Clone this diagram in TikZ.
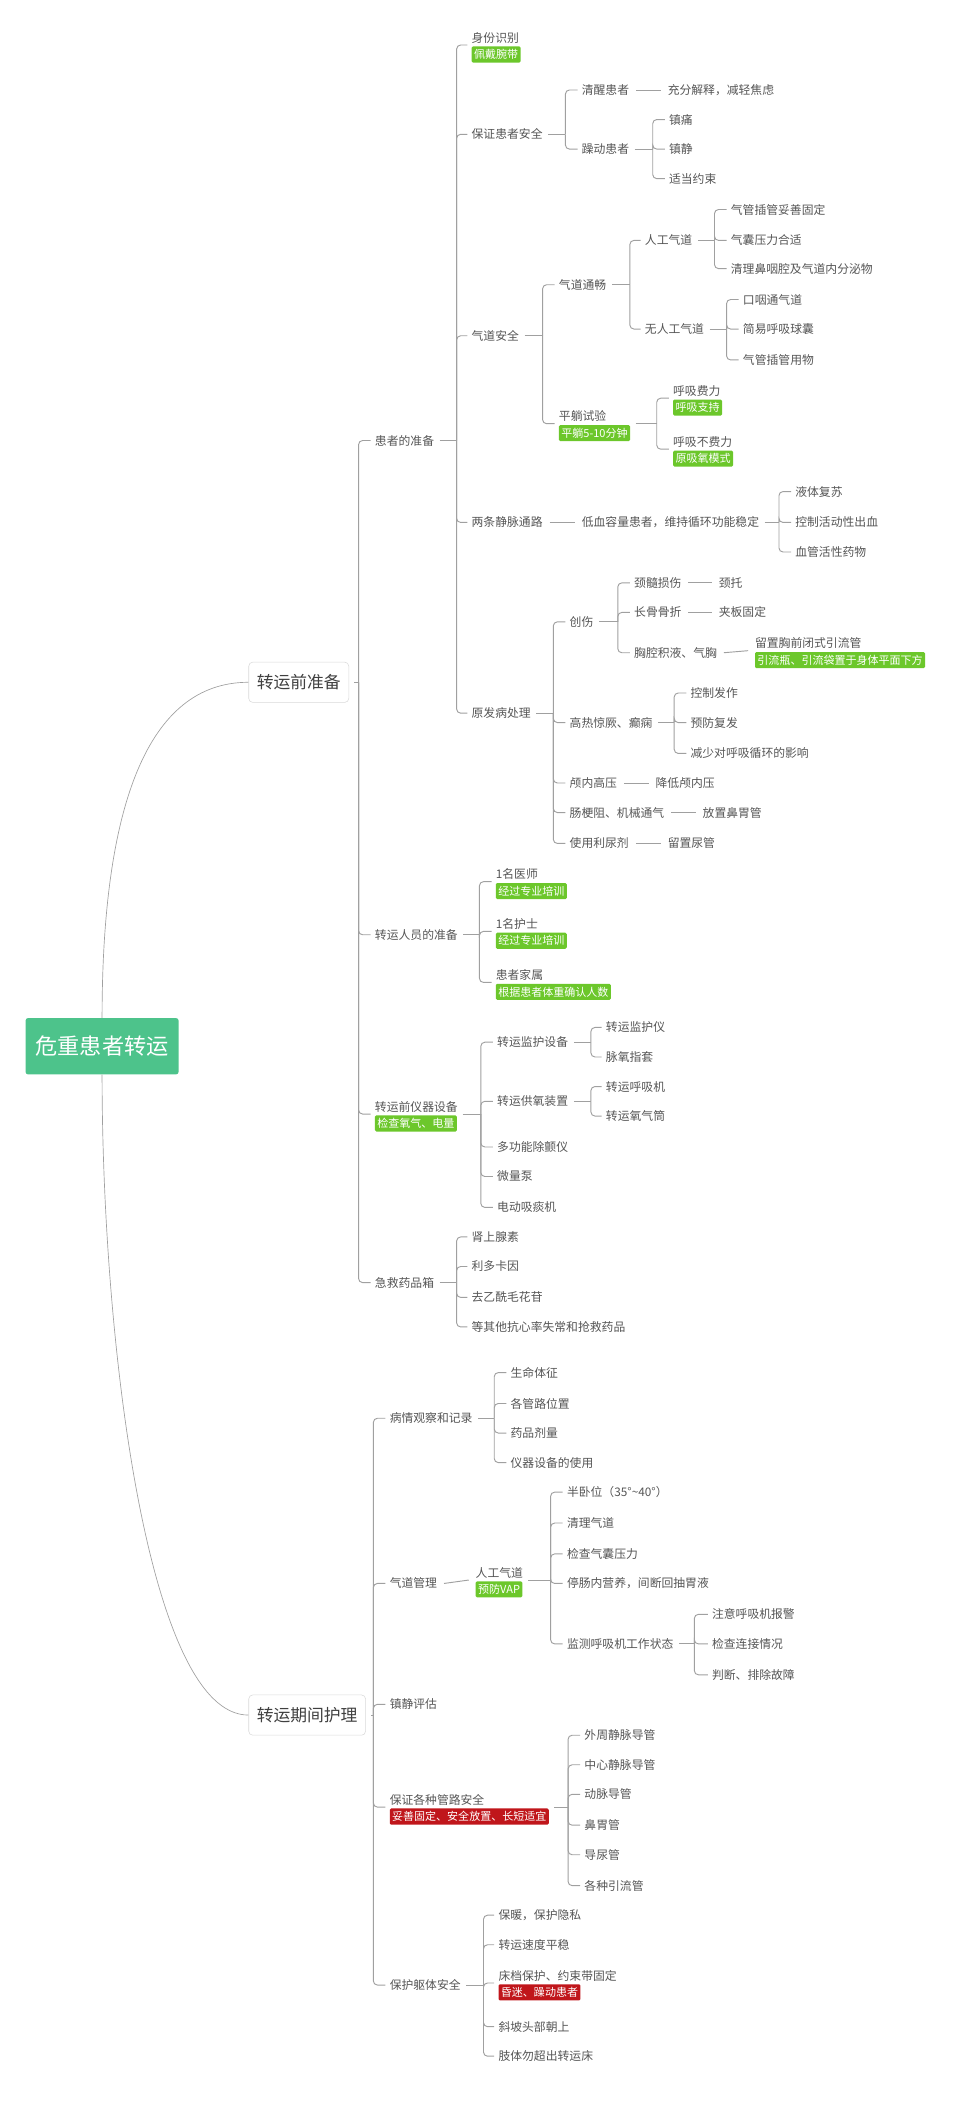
\documentclass[tikz,border=0pt]{standalone}
\usepackage{fontspec}
\setmainfont{Noto Sans CJK SC}
\begin{document}
\definecolor{ln}{HTML}{A0A0A0}
\definecolor{tx}{HTML}{555555}
\definecolor{gt}{HTML}{6CC72B}
\definecolor{rt}{HTML}{C0161B}
\definecolor{rg}{HTML}{4DC38B}
\newcommand\br[3]{\path (#2,0) coordinate (tmpx); \coordinate (T) at (#1.east -| tmpx);
 \draw[conn] ([xshift=4pt]#1.east) -- (T);
 \foreach \c in {#3} {\draw[conn,rounded corners=3pt] (T) |- ([xshift=-3pt]\c.west);}}
\newcommand\pl[2]{\draw[conn] ([xshift=5pt]#1.east) -- ([xshift=-5pt]#2.west);}
\newcommand\tg[6]{\node[t] (#1l) at (#2,#3) {#4};
 \node[#6, anchor=north west] (#1t) at ([yshift=-2pt]#1l.south west) {#5};
 \coordinate (#1) at ([yshift=-1.2pt]#1l.south west);
 \coordinate (#1E) at ([yshift=-1.2pt]#1l.south west -| #1t.east);}
\begin{tikzpicture}[x=1pt,y=-1pt,
 conn/.style={draw=ln,line width=0.7pt},
 t/.style={anchor=west,inner sep=0pt,text=tx,font=\fontsize{8.8}{10}\selectfont},
 gtag/.style={fill=gt,text=white,rounded corners=1pt,inner xsep=1.8pt,inner ysep=2.2pt,font=\fontsize{8.2}{9}\selectfont},
 rtag/.style={fill=rt,text=white,rounded corners=1pt,inner xsep=1.8pt,inner ysep=2.2pt,font=\fontsize{8.2}{9}\selectfont},
 l1/.style={draw=black!15,fill=white,rounded corners=3pt,text=black!75,minimum height=30pt,inner xsep=6pt,font=\fontsize{12.5}{14}\selectfont}]
\useasboundingbox (0,0) rectangle (720,1580);
\node[fill=rg,rounded corners=2pt,text=white,minimum width=114pt,minimum height=42pt,font=\fontsize{16.5}{18}\selectfont] (r) at (76,779) {危重患者转运};
\node[l1,anchor=west] (A) at (185,508) {转运前准备};
\node[l1,anchor=west] (B) at (185,1277) {转运期间护理};
\draw[conn,line width=0.5pt] (r.north) .. controls (76,600) and (110,508) .. (A.west);
\draw[conn,line width=0.5pt] (r.south) .. controls (76,1000) and (110,1277) .. (B.west);
% ---- A
\node[t] (a1) at (279,328) {患者的准备};
\node[t] (a2) at (279,696) {转运人员的准备};
\tg{a3}{279}{824}{转运前仪器设备}{检查氧气、电量}{gtag}
\node[t] (a4) at (279,955) {急救药品箱};
\br{A}{267}{a1,a2,a3,a4}
% a1
\tg{b1}{351}{28}{身份识别}{佩戴腕带}{gtag}
\node[t] (b2) at (351,100) {保证患者安全};
\node[t] (b3) at (351,250) {气道安全};
\node[t] (b4) at (351,389) {两条静脉通路};
\node[t] (b5) at (351,531) {原发病处理};
\br{a1}{340}{b1,b2,b3,b4,b5}
\node[t] (c1) at (433,67) {清醒患者};
\node[t] (c2) at (433,111) {躁动患者};
\br{b2}{421}{c1,c2}
\node[t] (c1a) at (497,67) {充分解释，减轻焦虑};
\pl{c1}{c1a}
\node[t] (d1) at (498,89) {镇痛};
\node[t] (d2) at (498,111) {镇静};
\node[t] (d3) at (498,133) {适当约束};
\br{c2}{486}{d1,d2,d3}
\node[t] (e1) at (416,212) {气道通畅};
\tg{e2}{416}{310}{平躺试验}{平躺5-10分钟}{gtag}
\br{b3}{404}{e1,e2}
\node[t] (f1) at (480,179) {人工气道};
\node[t] (f2) at (480,245) {无人工气道};
\br{e1}{469}{f1,f2}
\node[t] (g1) at (544,156) {气管插管妥善固定};
\node[t] (g2) at (544,179) {气囊压力合适};
\node[t] (g3) at (544,200) {清理鼻咽腔及气道内分泌物};
\br{f1}{532}{g1,g2,g3}
\node[t] (h1) at (553,223) {口咽通气道};
\node[t] (h2) at (553,245) {简易呼吸球囊};
\node[t] (h3) at (553,268) {气管插管用物};
\br{f2}{541}{h1,h2,h3}
\tg{i1}{501}{291}{呼吸费力}{呼吸支持}{gtag}
\tg{i2}{501}{329}{呼吸不费力}{原吸氧模式}{gtag}
\br{e2E}{489}{i1,i2}
\node[t] (j0) at (433,389) {低血容量患者，维持循环功能稳定};
\pl{b4}{j0}
\node[t] (j1) at (592,366) {液体复苏};
\node[t] (j2) at (592,389) {控制活动性出血};
\node[t] (j3) at (592,411) {血管活性药物};
\br{j0}{580}{j1,j2,j3}
\node[t] (k1) at (424,463) {创伤};
\node[t] (k2) at (424,538) {高热惊厥、癫痫};
\node[t] (k3) at (424,583) {颅内高压};
\node[t] (k4) at (424,605) {肠梗阻、机械通气};
\node[t] (k5) at (424,628) {使用利尿剂};
\br{b5}{412}{k1,k2,k3,k4,k5}
\node[t] (l1) at (472,434) {颈髓损伤};
\node[t] (l2) at (472,456) {长骨骨折};
\node[t] (l3) at (472,486) {胸腔积液、气胸};
\br{k1}{460}{l1,l2,l3}
\node[t] (l1a) at (535,434) {颈托};
\node[t] (l2a) at (535,456) {夹板固定};
\pl{l1}{l1a}
\pl{l2}{l2a}
\tg{l3a}{562}{479}{留置胸前闭式引流管}{引流瓶、引流袋置于身体平面下方}{gtag}
\draw[conn] ([xshift=5pt]l3.east) -- ([xshift=-5pt]l3a);
\node[t] (m1) at (514,516) {控制发作};
\node[t] (m2) at (514,538) {预防复发};
\node[t] (m3) at (514,561) {减少对呼吸循环的影响};
\br{k2}{502}{m1,m2,m3}
\node[t] (k3a) at (488,583) {降低颅内压};
\node[t] (k4a) at (523,605) {放置鼻胃管};
\node[t] (k5a) at (497,628) {留置尿管};
\pl{k3}{k3a}
\pl{k4}{k4a}
\pl{k5}{k5a}
% a2
\tg{n1}{369}{651}{1名医师}{经过专业培训}{gtag}
\tg{n2}{369}{688}{1名护士}{经过专业培训}{gtag}
\tg{n3}{369}{726}{患者家属}{根据患者体重确认人数}{gtag}
\br{a2}{357}{n1,n2,n3}
% a3
\node[t] (o1) at (370,776) {转运监护设备};
\node[t] (o2) at (370,820) {转运供氧装置};
\node[t] (o3) at (370,854) {多功能除颤仪};
\node[t] (o4) at (370,876) {微量泵};
\node[t] (o5) at (370,899) {电动吸痰机};
\br{a3E}{358}{o1,o2,o3,o4,o5}
\node[t] (p1) at (451,765) {转运监护仪};
\node[t] (p2) at (451,787) {脉氧指套};
\br{o1}{440}{p1,p2}
\node[t] (p3) at (451,809) {转运呼吸机};
\node[t] (p4) at (451,831) {转运氧气筒};
\br{o2}{440}{p3,p4}
% a4
\node[t] (q1) at (351,921) {肾上腺素};
\node[t] (q2) at (351,943) {利多卡因};
\node[t] (q3) at (351,966) {去乙酰毛花苷};
\node[t] (q4) at (351,988) {等其他抗心率失常和抢救药品};
\br{a4}{340}{q1,q2,q3,q4}
% ---- B
\node[t] (s1) at (290,1056) {病情观察和记录};
\node[t] (s2) at (290,1179) {气道管理};
\node[t] (s3) at (290,1269) {镇静评估};
\tg{s4}{290}{1340}{保证各种管路安全}{妥善固定、安全放置、长短适宜}{rtag}
\node[t] (s5) at (290,1478) {保护躯体安全};
\br{B}{278}{s1,s2,s3,s4,s5}
\node[t] (u1) at (380,1022) {生命体征};
\node[t] (u2) at (380,1045) {各管路位置};
\node[t] (u3) at (380,1067) {药品剂量};
\node[t] (u4) at (380,1089) {仪器设备的使用};
\br{s1}{368}{u1,u2,u3,u4}
\tg{v0}{354}{1171}{人工气道}{预防VAP}{gtag}
\draw[conn] ([xshift=5pt]s2.east) -- ([xshift=-5pt]v0);
\node[t] (v1) at (422,1111) {半卧位（35°\string~40°）};
\node[t] (v2) at (422,1134) {清理气道};
\node[t] (v3) at (422,1157) {检查气囊压力};
\node[t] (v4) at (422,1179) {停肠内营养，间断回抽胃液};
\node[t] (v5) at (422,1224) {监测呼吸机工作状态};
\br{v0E}{410}{v1,v2,v3,v4,v5}
\node[t] (w1) at (530,1202) {注意呼吸机报警};
\node[t] (w2) at (530,1224) {检查连接情况};
\node[t] (w3) at (530,1247) {判断、排除故障};
\br{v5}{517}{w1,w2,w3}
\node[t] (x1) at (435,1292) {外周静脉导管};
\node[t] (x2) at (435,1314) {中心静脉导管};
\node[t] (x3) at (435,1336) {动脉导管};
\node[t] (x4) at (435,1359) {鼻胃管};
\node[t] (x5) at (435,1381) {导尿管};
\node[t] (x6) at (435,1404) {各种引流管};
\br{s4E}{423}{x1,x2,x3,x4,x5,x6}
\node[t] (y1) at (371,1426) {保暖，保护隐私};
\node[t] (y2) at (371,1448) {转运速度平稳};
\tg{y3}{371}{1471}{床档保护、约束带固定}{昏迷、躁动患者}{rtag}
\node[t] (y4) at (371,1509) {斜坡头部朝上};
\node[t] (y5) at (371,1531) {肢体勿超出转运床};
\br{s5}{360}{y1,y2,y3,y4,y5}
\end{tikzpicture}
\end{document}
